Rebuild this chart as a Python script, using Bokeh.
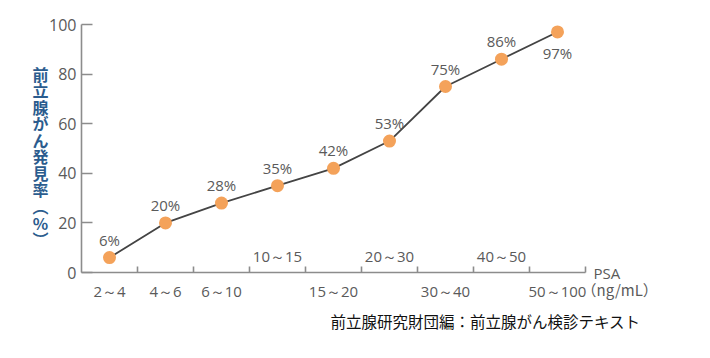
from bokeh.plotting import figure
from bokeh.models import ColumnDataSource, LabelSet, Label, FixedTicker, Range1d, LinearAxis
from bokeh.core.properties import value
from bokeh.embed import file_html
from bokeh.resources import INLINE

# ---- data ----
categories = ["2～4", "4～6", "6～10", "10～15", "15～20", "20～30", "30～40", "40～50", "50～100"]
rates = [6, 20, 28, 35, 42, 53, 75, 86, 97]
rate_labels = ["6%", "20%", "28%", "35%", "42%", "53%", "75%", "86%", "97%"]
cat_label_row = ["below", "below", "below", "above", "below", "above", "below", "above", "below"]
point_label_side = ["above", "above", "above", "above", "above", "above", "above", "above", "below"]
y_ticks = [0, 20, 40, 60, 80, 100]
y_title = "前立腺がん発見率（%）"
x_title_1 = "PSA"
x_title_2 = "（ng/mL）"
source_note = "前立腺研究財団編：前立腺がん検診テキスト"

# ---- layout (pixels) ----
W, H = 710, 358
AX_LEFT, AX_RIGHT = 81, 585      # x-axis extent on screen
AX_TOP, AX_BOTTOM = 24, 272      # y-axis extent on screen

n = len(categories)
xs = [i + 0.5 for i in range(n)]
boundaries = list(range(1, n + 1))
y_max = y_ticks[-1]

px_x = (AX_RIGHT - AX_LEFT) / n
px_y = (AX_BOTTOM - AX_TOP) / y_max
x_range = Range1d(-AX_LEFT / px_x, (W - AX_LEFT) / px_x)
y_range = Range1d(-(H - AX_BOTTOM) / px_y, y_max + AX_TOP / px_y)

FONT = "Open Sans"
CJK = "Noto Sans CJK JP"
GRAY_TXT = "#5a5a5a"
AXIS_COL = "#8c8c8c"

p = figure(width=W, height=H, output_backend="svg", toolbar_location=None,
           x_range=x_range, y_range=y_range,
           x_axis_location=None, y_axis_location=None,
           min_border=0)
p.outline_line_color = None
p.xgrid.visible = False
p.ygrid.visible = False
p.background_fill_color = "white"
p.border_fill_color = "white"

# y axis (pinned at x = 0)
ya = LinearAxis(fixed_location=0, bounds=(0, y_max), ticker=FixedTicker(ticks=y_ticks))
ya.major_tick_in = 11
ya.major_tick_out = 0
ya.minor_tick_line_color = None
ya.axis_line_color = AXIS_COL
ya.axis_line_width = 1.6
ya.major_tick_line_color = AXIS_COL
ya.major_tick_line_width = 1.6
ya.major_label_text_color = GRAY_TXT
ya.major_label_text_font = FONT
ya.major_label_text_font_size = "16px"
ya.major_label_standoff = 5
p.add_layout(ya, "left")

# x axis (pinned at y = 0): ticks at category boundaries, labels drawn separately
xa = LinearAxis(fixed_location=0, bounds=(0, n), ticker=FixedTicker(ticks=boundaries))
xa.major_tick_in = 6
xa.major_tick_out = 0
xa.minor_tick_line_color = None
xa.axis_line_color = AXIS_COL
xa.axis_line_width = 1.6
xa.major_tick_line_color = AXIS_COL
xa.major_tick_line_width = 1.6
xa.major_label_text_color = None
xa.major_label_text_font_size = "0px"
p.add_layout(xa, "below")

# line + points
src = ColumnDataSource(dict(x=xs, y=rates, lab=rate_labels, cat=categories))
p.line("x", "y", source=src, line_color="#444444", line_width=1.8)
p.scatter("x", "y", source=src, size=13, fill_color="#F4A25A", line_color=None)


def sub(mask_list, key):
    idx = [i for i, v in enumerate(mask_list) if v == key]
    return ColumnDataSource(dict(x=[xs[i] for i in idx], y=[rates[i] for i in idx],
                                 lab=[rate_labels[i] for i in idx],
                                 cat=[categories[i] for i in idx],
                                 zero=[0 for _ in idx]))


# point value labels
for side, off in (("above", 18), ("below", -21)):
    s = sub(point_label_side, side)
    p.add_layout(LabelSet(x="x", y="y", text="lab", source=s, y_offset=off,
                          text_align="center", text_baseline="middle",
                          text_font=value(FONT), text_font_size="15px", text_color=GRAY_TXT))

# category labels (staggered)
for row, off in (("below", -18), ("above", 17)):
    s = sub(cat_label_row, row)
    p.add_layout(LabelSet(x="x", y="zero", text="cat", source=s, y_offset=off,
                          text_align="center", text_baseline="middle",
                          text_font=value(FONT), text_font_size="15px", text_color=GRAY_TXT))

# axis titles
p.add_layout(Label(x=n, y=0, x_offset=8, y_offset=0, text=x_title_1,
                   text_align="left", text_baseline="middle",
                   text_font=FONT, text_font_size="15px", text_color=GRAY_TXT))
p.add_layout(Label(x=n, y=0, x_offset=-4, y_offset=-17, text=x_title_2,
                   text_align="left", text_baseline="middle",
                   text_font=CJK, text_font_size="15px", text_color=GRAY_TXT))

vert = y_title.replace("（", "︵").replace("）", "︶")
p.add_layout(Label(x=0, y=y_max, x_offset=-41, y_offset=-37, text="\n".join(vert),
                   text_align="center", text_baseline="top", text_line_height=0.69,
                   text_font=CJK, text_font_style="bold", text_font_size="16px",
                   text_color="#2b5c8e"))

# source note
p.add_layout(Label(x=0, y=0, x_offset=249, y_offset=-48, text=source_note,
                   text_align="left", text_baseline="middle",
                   text_font=CJK, text_font_size="15.5px", text_color="#111111"))

open("out.html", "w").write(file_html(p, INLINE))
